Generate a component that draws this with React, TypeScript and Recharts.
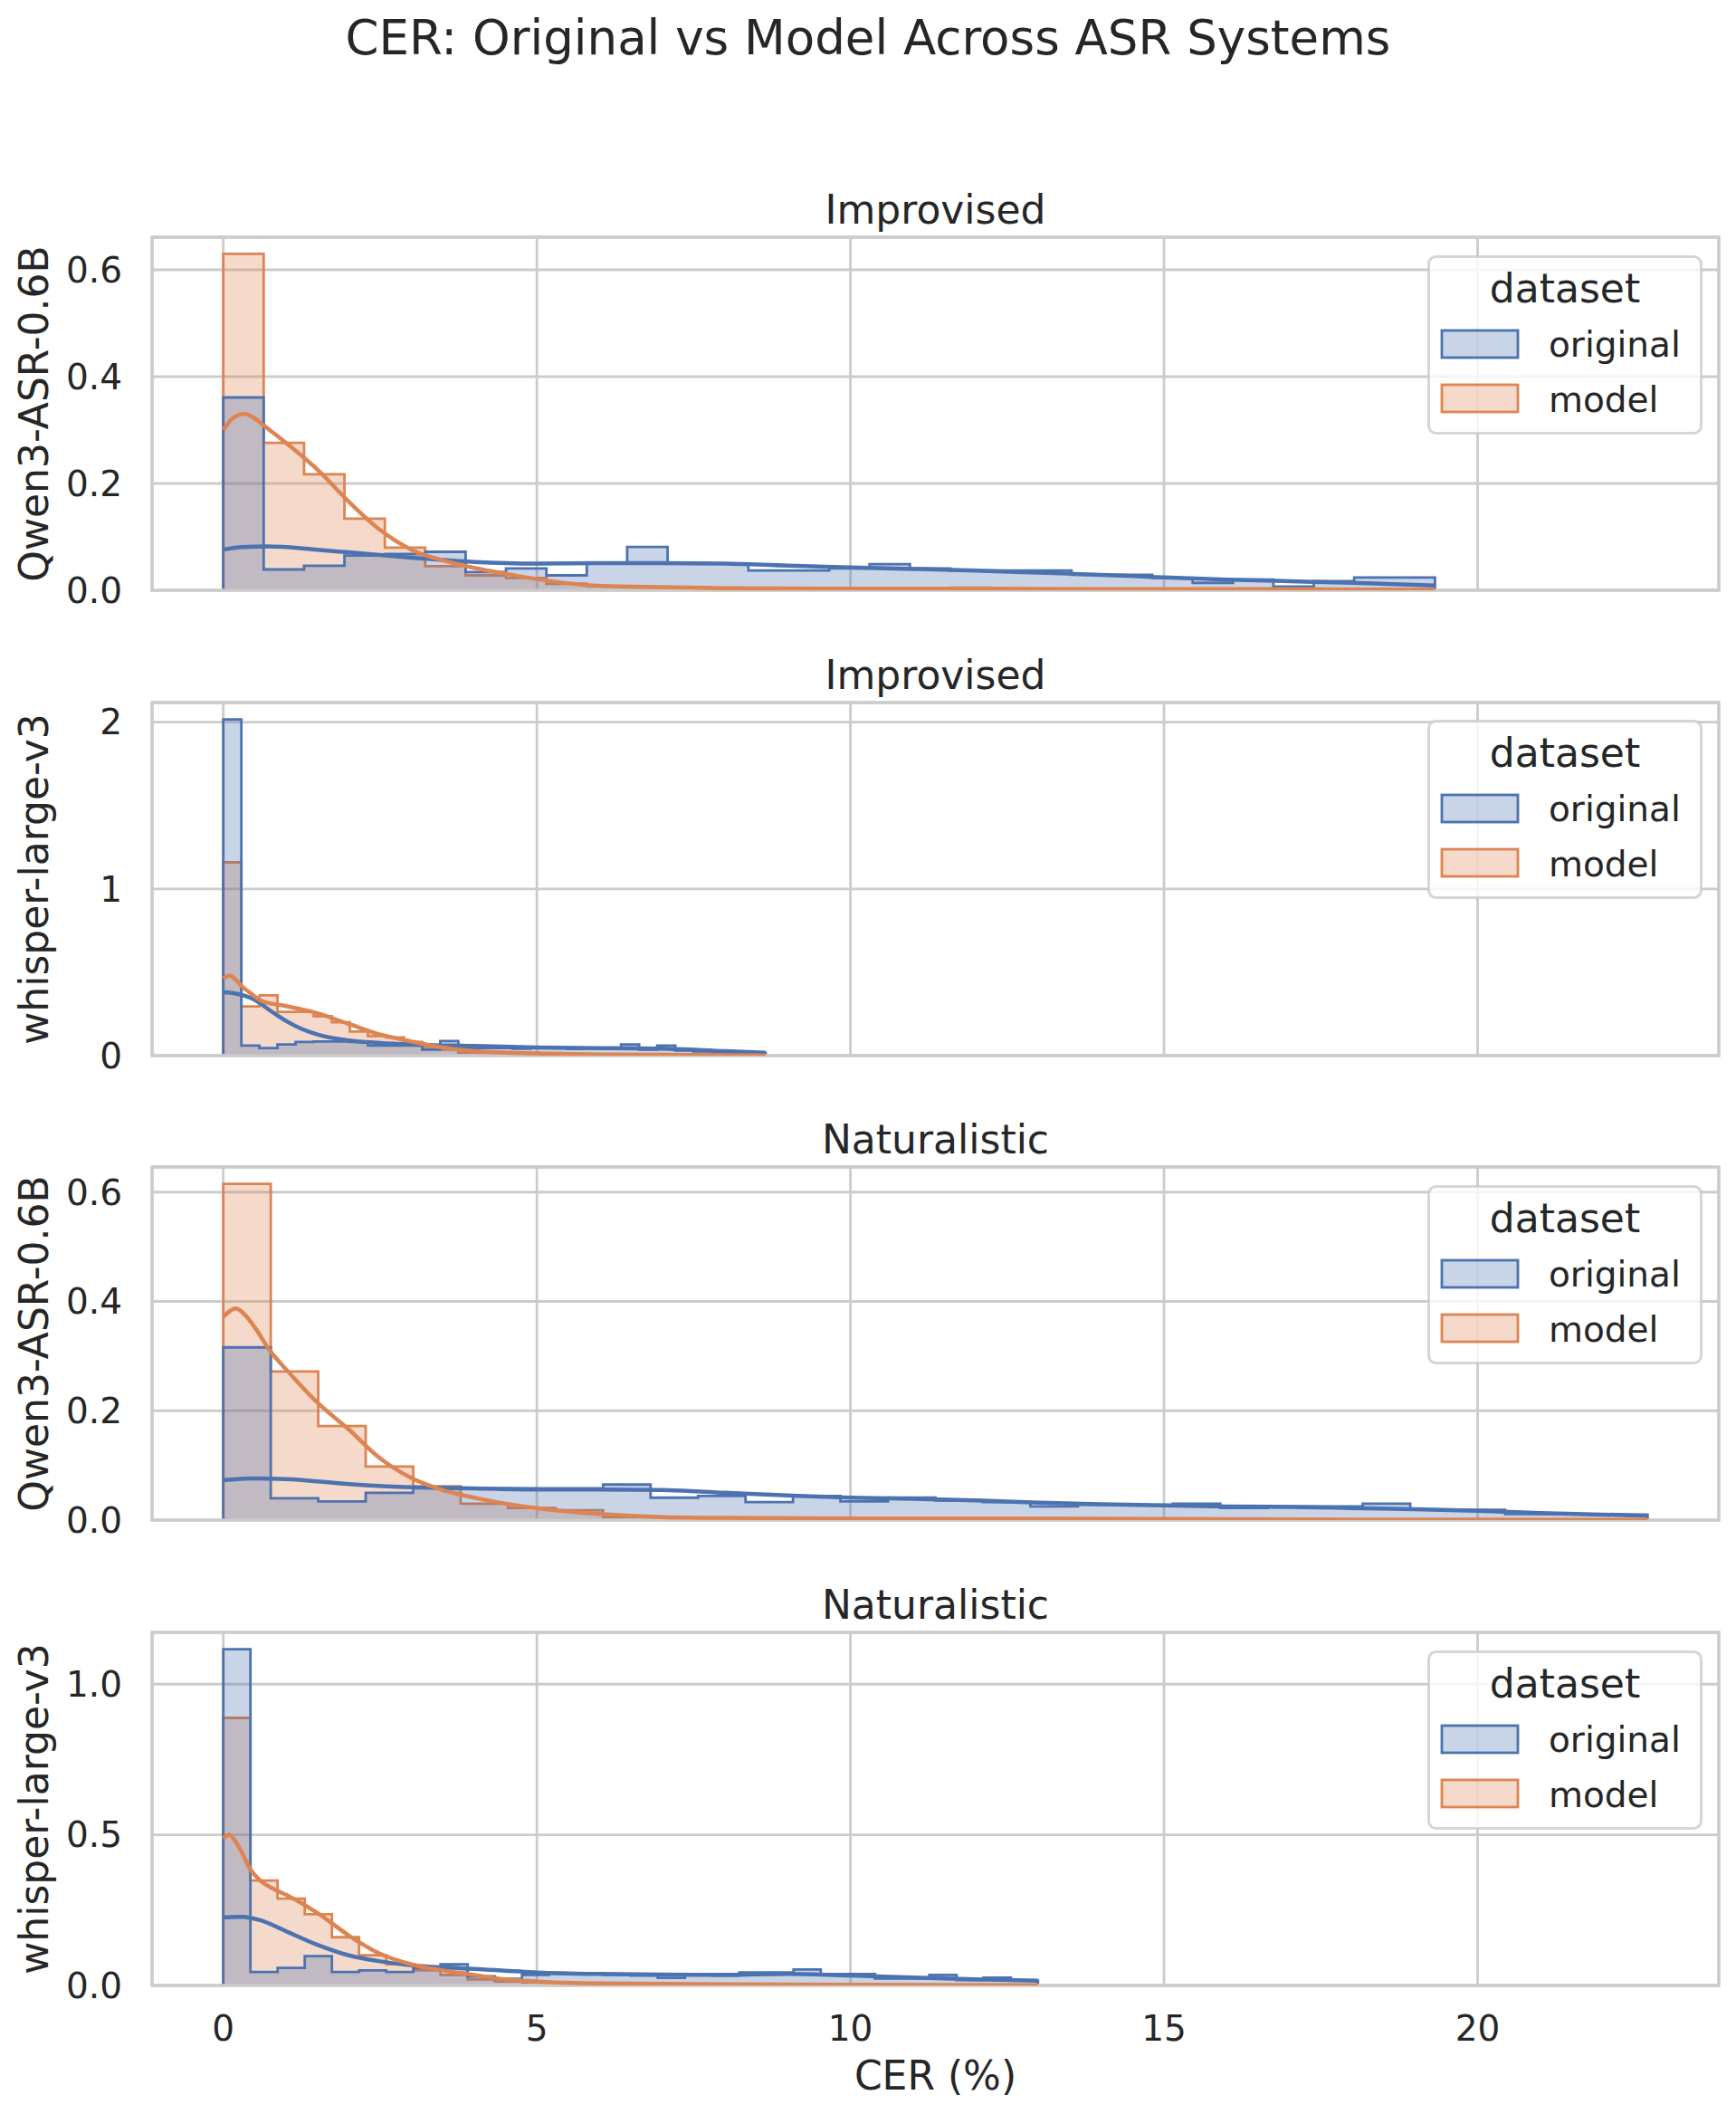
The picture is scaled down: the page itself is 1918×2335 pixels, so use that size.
import React from "react";
import {
  Area,
  CartesianGrid,
  ComposedChart,
  Legend,
  Line,
  ReferenceArea,
  XAxis,
  YAxis,
} from "recharts";

const BLUE = "#4c72b0";
const ORANGE = "#dd8452";
const GRID = "#cccccc";
const TEXT = "#262626";
const FONT = "'DejaVu Sans', sans-serif";

const FIG_TITLE = "CER: Original vs Model Across ASR Systems";
const X_LABEL = "CER (%)";
const X_TICKS = [0, 5, 10, 15, 20];
const X_DATA_MAX = 22.71;
const LEGEND_TITLE = "dataset";
const LEGEND_ITEMS = [
  { label: "original", color: BLUE },
  { label: "model", color: ORANGE },
];

// Qwen3-ASR-0.6B, Improvised (30 shared bins)
const QWEN_IMP_BIN = 0.644;
const QWEN_IMP_ORIGINAL = [
  0.361, 0.039, 0.046, 0.065, 0.068, 0.072, 0.034, 0.041, 0.028, 0.051, 0.081, 0.051, 0.05, 0.037, 0.037,
  0.041, 0.049, 0.041, 0.037, 0.037, 0.037, 0.029, 0.029, 0.023, 0.014, 0.02, 0.007, 0.017, 0.024, 0.024,
];
const QWEN_IMP_MODEL = [
  0.63, 0.276, 0.217, 0.134, 0.08, 0.045, 0.028, 0.023, 0.012, 0.008, 0.006, 0.005, 0.004, 0.003, 0.003,
  0.003, 0.003, 0.003, 0.005, 0.003, 0.002, 0.002, 0.002, 0.002, 0.002, 0.001, 0.001, 0.001, 0.001, 0.001,
];
const QWEN_IMP_KDE_ORIGINAL: [number, number][] = [
  [0, 0.076], [0.3, 0.081], [0.7, 0.082], [1.5, 0.076], [2, 0.071], [3, 0.061], [4, 0.053], [5, 0.05],
  [6, 0.051], [7, 0.051], [8, 0.05], [9, 0.046], [10, 0.043], [11, 0.04], [12, 0.037], [13, 0.033],
  [14, 0.029], [15, 0.024], [16, 0.02], [17, 0.017], [18, 0.014], [19.32, 0.009],
];
const QWEN_IMP_KDE_MODEL: [number, number][] = [
  [0, 0.3], [0.15, 0.322], [0.33, 0.33], [0.5, 0.322], [0.63, 0.31], [1, 0.276], [1.5, 0.226], [2, 0.166],
  [2.5, 0.113], [3, 0.076], [3.5, 0.056], [4, 0.042], [4.5, 0.031], [5, 0.021], [6, 0.0085], [7, 0.006],
  [8, 0.004], [10, 0.003], [12, 0.003], [14, 0.002], [17, 0.002], [19.32, 0.001],
];

// whisper-large-v3, Improvised
const WHISPER_IMP_BIN = 0.2883;
const WHISPER_IMP_ORIGINAL = [
  2.016, 0.06, 0.045, 0.067, 0.082, 0.085, 0.085, 0.082, 0.06, 0.06, 0.06, 0.036, 0.087, 0.045, 0.045,
  0.045, 0.042, 0.05, 0.05, 0.04, 0.045, 0.04, 0.067, 0.036, 0.06, 0.03, 0.025, 0.02, 0.015, 0.015,
];
const WHISPER_IMP_MODEL = [
  1.159, 0.295, 0.362, 0.263, 0.263, 0.236, 0.2, 0.145, 0.118, 0.109, 0.082, 0.045, 0.036, 0.018, 0.013,
  0.01, 0.008, 0.006, 0.005, 0.004, 0.004, 0.003, 0.003, 0.002, 0.002, 0.002, 0.002, 0.001, 0.001, 0.001,
];
const WHISPER_IMP_KDE_ORIGINAL: [number, number][] = [
  [0, 0.38], [0.2, 0.372], [0.5, 0.335], [0.75, 0.27], [1, 0.208], [1.25, 0.16], [1.5, 0.127], [2, 0.091],
  [2.5, 0.076], [3, 0.067], [4, 0.058], [5, 0.049], [6, 0.045], [7, 0.042], [8, 0.027], [8.65, 0.018],
];
const WHISPER_IMP_KDE_MODEL: [number, number][] = [
  [0, 0.462], [0.1, 0.48], [0.2, 0.455], [0.3, 0.415], [0.45, 0.37], [0.6, 0.33], [0.8, 0.31], [1, 0.297],
  [1.5, 0.254], [2, 0.19], [2.5, 0.127], [3, 0.085], [3.5, 0.049], [4, 0.027], [5, 0.013], [6, 0.007],
  [7, 0.005], [8.65, 0.002],
];

// Qwen3-ASR-0.6B, Naturalistic
const QWEN_NAT_BIN = 0.757;
const QWEN_NAT_ORIGINAL = [
  0.316, 0.04, 0.034, 0.05, 0.06, 0.058, 0.058, 0.058, 0.065, 0.041, 0.044, 0.033, 0.044, 0.034, 0.041,
  0.036, 0.033, 0.025, 0.028, 0.028, 0.03, 0.022, 0.025, 0.025, 0.03, 0.019, 0.019, 0.011, 0.011, 0.01,
];
const QWEN_NAT_MODEL = [
  0.615, 0.272, 0.172, 0.098, 0.062, 0.03, 0.022, 0.018, 0.0055, 0.004, 0.003, 0.003, 0.002, 0.002, 0.002,
  0.002, 0.004, 0.002, 0.001, 0.001, 0.001, 0.001, 0.001, 0.001, 0.001, 0.001, 0.001, 0.001, 0.001, 0.001,
];
const QWEN_NAT_KDE_ORIGINAL: [number, number][] = [
  [0, 0.073], [0.5, 0.076], [1, 0.075], [2, 0.066], [3, 0.06], [4, 0.058], [5, 0.056], [6, 0.056],
  [7, 0.055], [8, 0.05], [9, 0.045], [10, 0.041], [11, 0.039], [12, 0.036], [13, 0.032], [14, 0.029],
  [15, 0.027], [16, 0.025], [17, 0.024], [18, 0.022], [19, 0.02], [20, 0.017], [21, 0.013], [22.71, 0.008],
];
const QWEN_NAT_KDE_MODEL: [number, number][] = [
  [0, 0.372], [0.2, 0.387], [0.35, 0.375], [0.5, 0.353], [0.75, 0.309], [1, 0.276], [1.5, 0.215],
  [2, 0.166], [2.5, 0.113], [3, 0.077], [3.5, 0.055], [4, 0.041], [4.5, 0.03], [5, 0.022], [6, 0.011],
  [7, 0.0055], [8, 0.004], [10, 0.003], [12.5, 0.003], [15, 0.002], [18, 0.001], [22.71, 0.0005],
];

// whisper-large-v3, Naturalistic
const WHISPER_NAT_BIN = 0.433;
const WHISPER_NAT_ORIGINAL = [
  1.116, 0.045, 0.058, 0.097, 0.045, 0.05, 0.045, 0.058, 0.07, 0.03, 0.022, 0.035, 0.04, 0.04, 0.035,
  0.033, 0.025, 0.035, 0.033, 0.043, 0.043, 0.053, 0.038, 0.038, 0.023, 0.023, 0.035, 0.018, 0.026, 0.016,
];
const WHISPER_NAT_MODEL = [
  0.888, 0.348, 0.288, 0.236, 0.16, 0.1, 0.07, 0.05, 0.035, 0.02, 0.013, 0.01, 0.008, 0.006, 0.006,
  0.005, 0.004, 0.004, 0.003, 0.003, 0.003, 0.002, 0.002, 0.002, 0.002, 0.002, 0.001, 0.001, 0.001, 0.001,
];
const WHISPER_NAT_KDE_ORIGINAL: [number, number][] = [
  [0, 0.226], [0.3, 0.228], [0.6, 0.216], [1, 0.18], [1.5, 0.135], [2, 0.1], [2.5, 0.08], [3, 0.067],
  [4, 0.055], [5, 0.043], [6, 0.038], [7, 0.036], [8, 0.035], [9, 0.038], [10, 0.033], [11, 0.026],
  [12, 0.02], [12.99, 0.016],
];
const WHISPER_NAT_KDE_MODEL: [number, number][] = [
  [0, 0.488], [0.1, 0.5], [0.2, 0.476], [0.3, 0.44], [0.43, 0.386], [0.6, 0.346], [0.8, 0.321], [1, 0.301],
  [1.5, 0.241], [2, 0.166], [2.5, 0.105], [3, 0.07], [3.5, 0.05], [4, 0.035], [4.5, 0.02], [5, 0.013],
  [6, 0.007], [8, 0.004], [10, 0.002], [12.99, 0.001],
];

type Panel = {
  system: string;
  title: string;
  bin: number;
  original: number[];
  model: number[];
  kdeOriginal: [number, number][];
  kdeModel: [number, number][];
  yMax: number;
  yTicks: number[];
  decimals: number;
};

const PANELS: Panel[] = [
  {
    system: "Qwen3-ASR-0.6B", title: "Improvised", bin: QWEN_IMP_BIN,
    original: QWEN_IMP_ORIGINAL, model: QWEN_IMP_MODEL,
    kdeOriginal: QWEN_IMP_KDE_ORIGINAL, kdeModel: QWEN_IMP_KDE_MODEL,
    yMax: 0.661, yTicks: [0, 0.2, 0.4, 0.6], decimals: 1,
  },
  {
    system: "whisper-large-v3", title: "Improvised", bin: WHISPER_IMP_BIN,
    original: WHISPER_IMP_ORIGINAL, model: WHISPER_IMP_MODEL,
    kdeOriginal: WHISPER_IMP_KDE_ORIGINAL, kdeModel: WHISPER_IMP_KDE_MODEL,
    yMax: 2.117, yTicks: [0, 1, 2], decimals: 0,
  },
  {
    system: "Qwen3-ASR-0.6B", title: "Naturalistic", bin: QWEN_NAT_BIN,
    original: QWEN_NAT_ORIGINAL, model: QWEN_NAT_MODEL,
    kdeOriginal: QWEN_NAT_KDE_ORIGINAL, kdeModel: QWEN_NAT_KDE_MODEL,
    yMax: 0.646, yTicks: [0, 0.2, 0.4, 0.6], decimals: 1,
  },
  {
    system: "whisper-large-v3", title: "Naturalistic", bin: WHISPER_NAT_BIN,
    original: WHISPER_NAT_ORIGINAL, model: WHISPER_NAT_MODEL,
    kdeOriginal: WHISPER_NAT_KDE_ORIGINAL, kdeModel: WHISPER_NAT_KDE_MODEL,
    yMax: 1.172, yTicks: [0, 0.5, 1], decimals: 1,
  },
];

// matplotlib-style 5% margins around the shared data range
const X_MIN = -0.05 * X_DATA_MAX;
const X_MAX = X_DATA_MAX * 1.05;

const PLOT_TOP = 262;
const PLOT_STEP = 513.7;
const PLOT_HEIGHT = 390;
const TOP_PAD = 100;
const BOTTOM_PAD = 40;

// outline of a step histogram: left wall, bin tops, right drop
function toSteps(width: number, heights: number[]) {
  const pts = [{ x: 0, y: 0 }];
  heights.forEach((h, i) => pts.push({ x: i * width, y: h }));
  pts.push({ x: heights.length * width, y: 0 });
  return pts;
}

function toPoints(pairs: [number, number][]) {
  return pairs.map(([x, y]) => ({ x, y }));
}

// shared x axis: inner panels keep the gridlines but print no labels
const NoTick = () => <g />;

function YLabel(props: any) {
  const vb = props.viewBox ?? { x: 0, y: TOP_PAD, width: 168, height: PLOT_HEIGHT };
  const cx = vb.x + 52.5;
  const cy = vb.y + vb.height / 2;
  return (
    <text x={cx} y={cy} transform={`rotate(-90 ${cx} ${cy})`} textAnchor="middle" fill={TEXT} fontSize={44} fontFamily={FONT}>
      {props.text}
    </text>
  );
}

function DatasetLegend() {
  return (
    <svg width={304} height={198} style={{ display: "block" }}>
      <rect x={1.5} y={1.5} width={301} height={195} rx={8} fill="rgba(255,255,255,0.8)" stroke="rgba(204,204,204,0.8)" strokeWidth={3} />
      <text x={152} y={52} textAnchor="middle" fill={TEXT} fontSize={44} fontFamily={FONT}>
        {LEGEND_TITLE}
      </text>
      {LEGEND_ITEMS.map((item, i) => (
        <g key={item.label}>
          <rect x={16} y={83 + i * 60} width={84} height={30} fill={item.color} fillOpacity={0.3} stroke={item.color} strokeWidth={2.8} />
          <text x={134} y={111.5 + i * 61.5} fill={TEXT} fontSize={39} fontFamily={FONT}>
            {item.label}
          </text>
        </g>
      ))}
    </svg>
  );
}

function PanelChart({ panel, index, last }: { panel: Panel; index: number; last: boolean }) {
  const axisHeight = last ? 142 : 0;
  const bottom = last ? 0 : BOTTOM_PAD;
  const height = TOP_PAD + PLOT_HEIGHT + axisHeight + bottom;
  const top = PLOT_TOP + index * PLOT_STEP - TOP_PAD;
  const fmt = (v: number) => v.toFixed(panel.decimals);

  return (
    <div style={{ position: "absolute", left: 0, top }}>
      <ComposedChart width={1918} height={height} margin={{ top: TOP_PAD, right: 19, bottom, left: 0 }}>
        <CartesianGrid stroke={GRID} strokeWidth={2.8} />
        <XAxis
          dataKey="x"
          type="number"
          domain={[X_MIN, X_MAX]}
          ticks={X_TICKS}
          interval={0}
          allowDataOverflow
          axisLine={false}
          tickLine={false}
          tickSize={0}
          tickMargin={33}
          height={axisHeight}
          tick={last ? { fill: TEXT, fontSize: 39, fontFamily: FONT } : NoTick}
          label={
            last
              ? { value: X_LABEL, position: "insideBottom", offset: 27, fill: TEXT, fontSize: 44, fontFamily: FONT }
              : undefined
          }
        />
        <YAxis
          type="number"
          domain={[0, panel.yMax]}
          ticks={panel.yTicks}
          interval={0}
          allowDataOverflow
          width={168}
          axisLine={false}
          tickLine={false}
          tickSize={0}
          tickMargin={33}
          tickFormatter={fmt}
          tick={{ fill: TEXT, fontSize: 39, fontFamily: FONT }}
          label={<YLabel text={panel.system} />}
        />
        <Area
          data={toSteps(panel.bin, panel.model)}
          dataKey="y"
          type="stepAfter"
          stroke={ORANGE}
          strokeWidth={2.8}
          fill={ORANGE}
          fillOpacity={0.3}
          dot={false}
          activeDot={false}
          isAnimationActive={false}
        />
        <Area
          data={toSteps(panel.bin, panel.original)}
          dataKey="y"
          type="stepAfter"
          stroke={BLUE}
          strokeWidth={2.8}
          fill={BLUE}
          fillOpacity={0.3}
          dot={false}
          activeDot={false}
          isAnimationActive={false}
        />
        <Line
          data={toPoints(panel.kdeOriginal)}
          dataKey="y"
          type="monotone"
          stroke={BLUE}
          strokeWidth={4.5}
          dot={false}
          activeDot={false}
          isAnimationActive={false}
        />
        <Line
          data={toPoints(panel.kdeModel)}
          dataKey="y"
          type="monotone"
          stroke={ORANGE}
          strokeWidth={4.5}
          dot={false}
          activeDot={false}
          isAnimationActive={false}
        />
        <ReferenceArea
          x1={X_MIN}
          x2={X_MAX}
          y1={0}
          y2={panel.yMax}
          fill="none"
          fillOpacity={0}
          stroke={GRID}
          strokeWidth={3.5}
          ifOverflow="visible"
          label={{ value: panel.title, position: "top", offset: 15, fill: TEXT, fontSize: 44, fontFamily: FONT }}
        />
        <Legend
          layout="horizontal"
          verticalAlign="middle"
          align="center"
          content={<DatasetLegend />}
          wrapperStyle={{ top: TOP_PAD + 19.7, left: 1577, width: 304, height: 198 }}
        />
      </ComposedChart>
    </div>
  );
}

export default function App() {
  return (
    <div style={{ position: "relative", width: 1918, height: 2335, margin: -8, background: "#ffffff", fontFamily: FONT }}>
      <svg width={1918} height={100} style={{ position: "absolute", left: 0, top: 0 }}>
        <text x={959} y={60} textAnchor="middle" fill={TEXT} fontSize={53} fontFamily={FONT}>
          {FIG_TITLE}
        </text>
      </svg>
      {PANELS.map((panel, i) => (
        <PanelChart key={i} panel={panel} index={i} last={i === PANELS.length - 1} />
      ))}
    </div>
  );
}
